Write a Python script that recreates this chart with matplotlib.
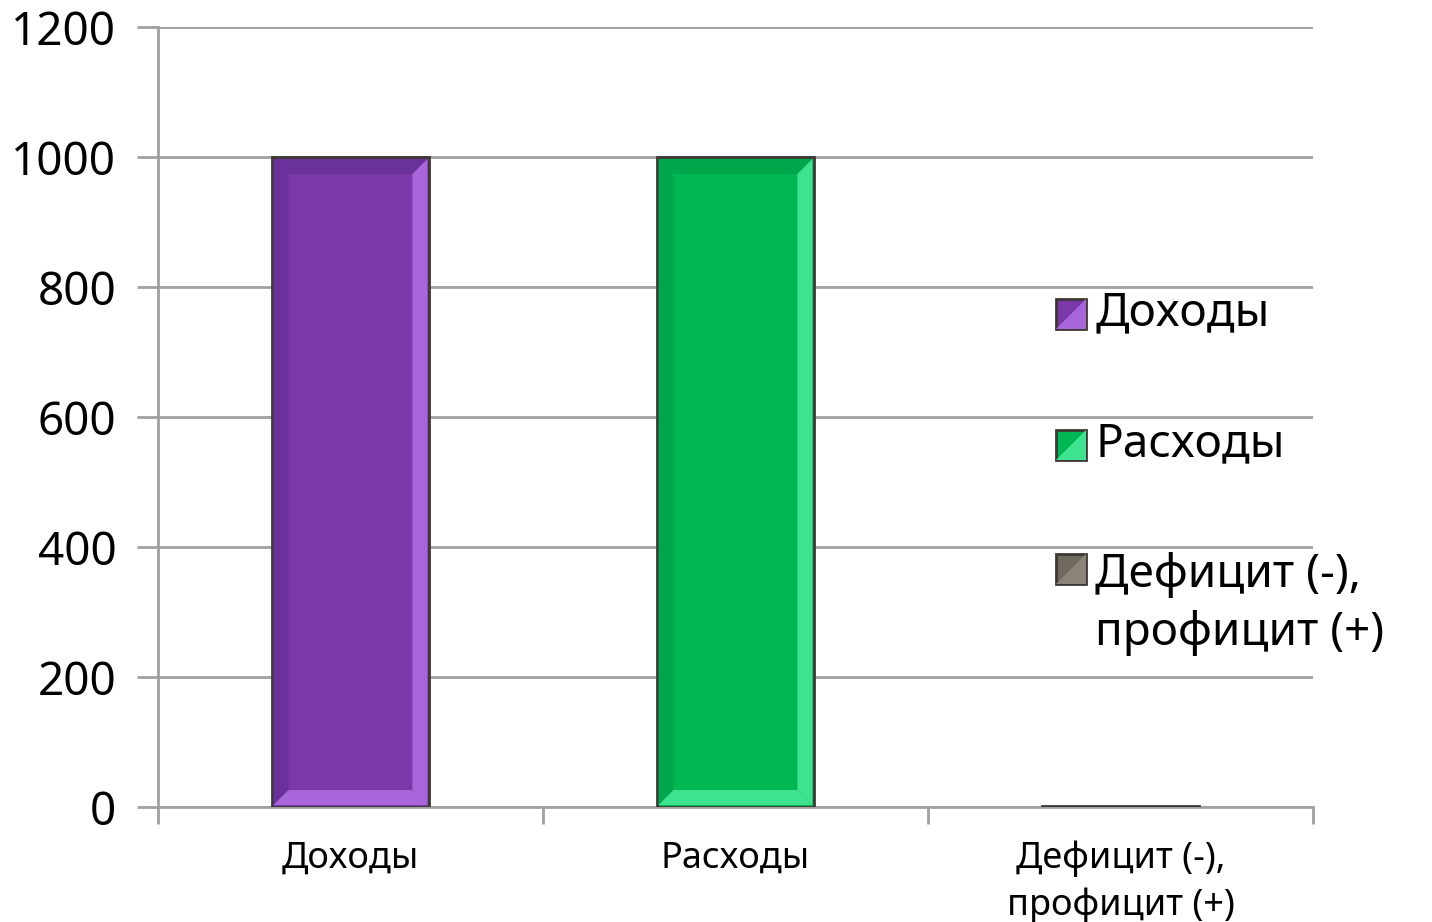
import matplotlib
matplotlib.use('Agg')
import matplotlib.pyplot as plt
from matplotlib.patches import Polygon, Patch
from matplotlib.legend_handler import HandlerPatch

plt.rcParams['font.family'] = ['Noto Sans', 'DejaVu Sans']

categories = ['Доходы', 'Расходы', 'Дефицит (-),\nпрофицит (+)']
values = [1000, 1000, 2]
y_ticks = [0, 200, 400, 600, 800, 1000, 1200]

# face, dark bevel, light bevel
fills = ['#7a38a9', '#00b853', '#6f685d']
darks = ['#6a319b', '#00a64b', '#5f594f']
lights = ['#a866da', '#3fe28f', '#8a8478']

grid_col = '#a0a0a0'

fig = plt.figure(figsize=(14.32, 9.22), dpi=100)
ax = fig.add_axes([0.1103, 0.1247, 0.8066, 0.846])

xs = range(len(categories))
bars = ax.bar(xs, values, width=0.41, color=fills, edgecolor='#3d3833',
              linewidth=2, zorder=3)

ax.set_xlim(-0.5, len(categories) - 0.5)
ax.set_ylim(0, 1200)
ax.set_yticks(y_ticks)
ax.set_yticklabels([str(v) for v in y_ticks], fontsize=33)
ax.set_xticks(list(xs))
ax.set_xticklabels(categories, fontsize=26, linespacing=1.4)
ax.tick_params(axis='x', length=0, pad=24)
ax.tick_params(axis='y', length=15, width=2, color=grid_col, pad=15)
ax.set_xticks([-0.5, 0.5, 1.5, 2.5], minor=True)
ax.tick_params(axis='x', which='minor', length=12, width=2, color=grid_col)

ax.grid(axis='y', color=grid_col, linewidth=2, zorder=0)
for s in ['top', 'right']:
    ax.spines[s].set_visible(False)
for s in ['left', 'bottom']:
    ax.spines[s].set_color(grid_col)
    ax.spines[s].set_linewidth(2)
    ax.spines[s].set_zorder(1)

# bevel shading on bars, drawn in pixel space
fig.canvas.draw()
for b, dk, lt in zip(bars, darks, lights):
    bb = b.get_window_extent()
    x0, y0, x1, y1 = bb.x0 + 2, bb.y0 + 2, bb.x1 - 2, bb.y1 - 2
    d = min(15, (y1 - y0) / 2)
    if y1 - y0 < 6:
        continue
    top = [(x0, y1), (x1, y1), (x1 - d, y1 - d), (x0 + d, y1 - d)]
    left = [(x0, y0), (x0, y1), (x0 + d, y1 - d), (x0 + d, y0 + d)]
    right = [(x1, y0), (x1, y1), (x1 - d, y1 - d), (x1 - d, y0 + d)]
    bottom = [(x0, y0), (x1, y0), (x1 - d, y0 + d), (x0 + d, y0 + d)]
    for pts, c in [(top, dk), (left, dk), (right, lt), (bottom, lt)]:
        fig.add_artist(Polygon(pts, closed=True, transform=None,
                               facecolor=c, edgecolor='none', zorder=4))


class BevelHandler(HandlerPatch):
    def create_artists(self, legend, orig, xd, yd, w, h, fs, trans):
        s = min(w, h)
        lift = getattr(orig, 'lift', 0) * fs
        x0, y0 = xd + (w - s) / 2, yd + (h - s) / 2 - 2 + lift
        x1, y1 = x0 + s, y0 + s
        face = Polygon([(x0, y0), (x1, y0), (x1, y1), (x0, y1)], closed=True,
                       facecolor=orig.get_facecolor(), edgecolor='#3d3833',
                       linewidth=2, transform=trans)
        tri = Polygon([(x0, y0), (x1, y0), (x1, y1)], closed=True,
                      facecolor=orig.get_edgecolor(), edgecolor='none',
                      transform=trans)
        return [face, tri]


leg_labels = ['Доходы', 'Расходы', 'Дефицит (-),\nпрофицит (+)']
handles = []
for i, (f, l) in enumerate(zip(fills, lights)):
    p = Patch(facecolor=f, edgecolor=l)
    p.lift = 0.9 if '\n' in leg_labels[i] else 0
    handles.append(p)

leg = ax.legend(handles, leg_labels, loc='upper left',
                bbox_to_anchor=(0.742, 0.715), frameon=False, fontsize=33,
                handlelength=0.65, handleheight=0.65, handletextpad=0.2,
                labelspacing=1.85, handler_map={Patch: BevelHandler()})
for t in leg.get_texts():
    t.set_linespacing(1.35)

fig.savefig('out.png', dpi=100)
